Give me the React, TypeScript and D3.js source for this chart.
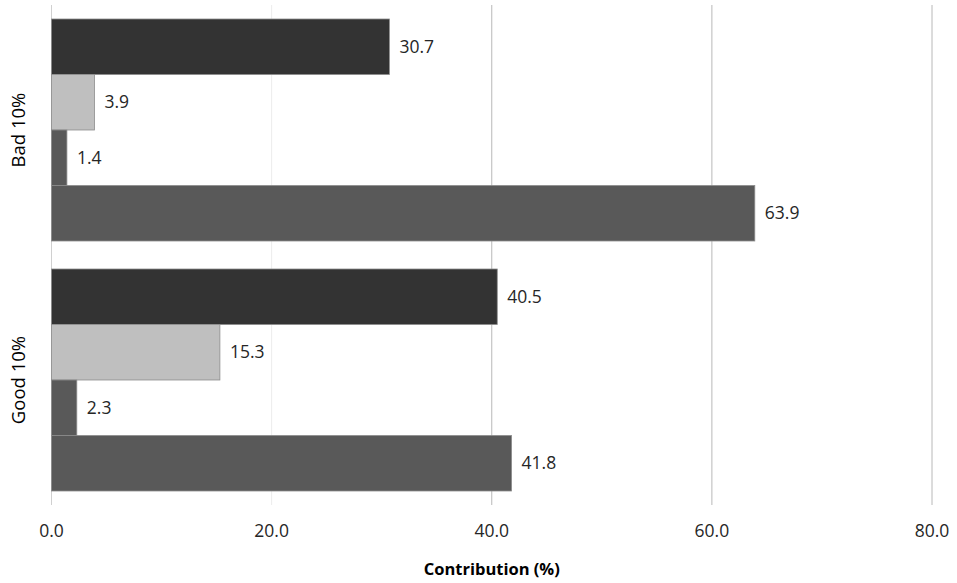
import React from "react";
import * as d3 from "d3";

const categories = ["Bad 10%", "Good 10%"];
const seriesKeys = ["s1", "s2", "s3", "s4"];
const seriesColors = ["#333333", "#bfbfbf", "#595959", "#595959"];
const badValues = [30.7, 3.9, 1.4, 63.9];
const goodValues = [40.5, 15.3, 2.3, 41.8];
const xTicks = [0, 20, 40, 60, 80];
const xTitle = "Contribution (%)";

const W = 957, H = 583;
const left = 51.5, right = 932, top = 5, bottom = 505;

export default function App() {
  const values = [badValues, goodValues];
  const x = d3.scaleLinear().domain([0, 80]).range([left, right]);
  const y0 = d3.scaleBand().domain(categories).range([top, bottom]).paddingInner(0.112).paddingOuter(0.056);
  const y1 = d3.scaleBand().domain(seriesKeys).range([0, y0.bandwidth()]);
  const font = "'Open Sans', 'DejaVu Sans', sans-serif";
  return (
    <svg width={W} height={H} style={{ position: "absolute", left: 0, top: 0, background: "#fff" }} fontFamily={font}>
      {xTicks.map((t) => (
        <line key={"g" + t} x1={x(t)} x2={x(t)} y1={top} y2={bottom}
          stroke={t === 0 ? "#d0d0d0" : t === 20 ? "#ececec" : "#b8b8b8"} strokeWidth={1} />
      ))}
      {categories.map((c, ci) => (
        <g key={c} transform={`translate(0,${y0(c)})`}>
          {seriesKeys.map((k, si) => {
            const v = values[ci][si];
            const yy = y1(k)!;
            return (
              <g key={k}>
                <rect x={x(0)} y={yy} width={x(v) - x(0)} height={y1.bandwidth()}
                  fill={seriesColors[si]} stroke="#8c8c8c" strokeWidth={0.8} />
                <text x={x(v) + 10} y={yy + y1.bandwidth() / 2} dy="0.35em" fontSize={17.5} fill="#262626">
                  {v.toFixed(1)}
                </text>
              </g>
            );
          })}
          <text transform={`translate(25,${y0.bandwidth() / 2}) rotate(-90)`} textAnchor="middle" fontSize={18.5} fill="#000">
            {c}
          </text>
        </g>
      ))}
      {xTicks.map((t) => (
        <text key={"t" + t} x={x(t)} y={531} dy="0.35em" textAnchor="middle" fontSize={17.5} fill="#262626">
          {t.toFixed(1)}
        </text>
      ))}
      <text x={(left + right) / 2} y={569} dy="0.35em" textAnchor="middle" fontSize={16.5} fontWeight="bold" fill="#000">
        {xTitle}
      </text>
    </svg>
  );
}
